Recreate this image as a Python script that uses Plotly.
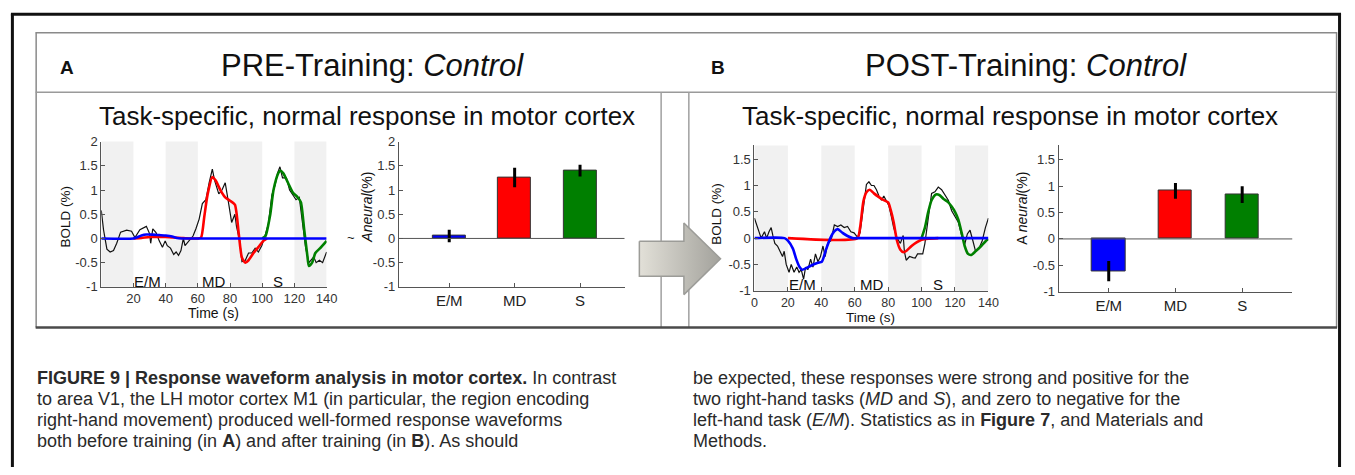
import plotly.graph_objects as go

W, H = 1355, 475
FONT = "Arial, Liberation Sans, sans-serif"
CAP_FONT = "Arial, Liberation Sans, sans-serif"

# ---------------- data ----------------
task_labels = ["E/M", "MD", "S"]
task_label_x = [29, 70, 110]
rest_starts = [0, 40, 80, 120]
rest_len = 20

# PRE-training time series (Time s, BOLD %)
pre_raw_t = [0, 1.4, 3.5, 5.5, 7.6, 9.6, 12, 15.8, 18.8, 20.9, 24, 28, 30, 30.7, 32, 34, 36, 38, 39.7, 41,
             43, 45, 46.5, 48, 49.5, 51, 52, 54.7, 57, 58.8, 60.8, 62.8, 65, 67, 69, 70.4, 73, 75, 77, 79,
             81, 83, 84, 86, 87.4, 89.5, 91.5, 93.5, 95.6, 97.6, 99.7, 101.7, 103.8, 106, 108, 109.5, 111,
             112.6, 115, 117, 119, 121, 123, 125, 127, 129, 130.4, 132, 133.5, 135.5, 137.5, 140]
pre_raw_v = [0.58, 0.18, -0.22, -0.28, -0.25, -0.1, 0.13, 0.17, 0.15, 0.02, 0.18, 0.25, 0.1, -0.1, 0.2, 0.12,
             -0.05, -0.18, -0.05, -0.15, -0.2, -0.33, -0.28, -0.35, -0.25, 0.0, -0.15, -0.05, 0.05, 0.2, 0.4,
             0.72, 0.8, 1.15, 1.43, 1.2, 0.92, 1.0, 1.15, 0.75, 0.33, 0.5, 0.25, -0.05, -0.48, -0.45, -0.3,
             -0.3, -0.2, -0.28, -0.15, 0.05, 0.3, 0.9, 1.1, 1.35, 1.48, 1.25, 1.25, 1.0, 0.9, 0.8, 0.85, 0.35,
             -0.2, -0.5, -0.45, -0.38, -0.5, -0.45, -0.5, -0.28]
pre_em_t = [0, 20, 22, 25, 28, 32, 36, 40, 44, 47, 50, 60, 140]
pre_em_v = [0, 0, 0.02, 0.06, 0.08, 0.08, 0.07, 0.06, 0.04, 0.01, 0, 0, 0]
pre_md_t = [20, 25, 30, 35, 40, 45, 50, 55, 60, 62, 64, 66, 69, 71, 74, 77, 80, 83, 85.4, 87.4, 89.5, 91.5,
            94.6, 97.6, 100.7, 103]
pre_md_v = [0, 0.01, 0.03, 0.03, 0.03, 0.02, 0.01, 0, 0, 0.02, 0.45, 0.9, 1.27, 1.2, 1.0, 0.85, 0.78, 0.7,
            0.1, -0.4, -0.5, -0.45, -0.3, -0.18, -0.05, 0]
pre_s_t = [100, 102, 105, 107, 110, 111, 113, 116, 119, 122, 124, 126, 128, 129, 131, 133, 136, 140]
pre_s_v = [0, 0.05, 0.5, 1.0, 1.35, 1.4, 1.35, 1.15, 0.95, 0.85, 0.75, 0.2, -0.35, -0.57, -0.5, -0.3, -0.2, -0.05]

# POST-training time series
post_raw_t = [0, 2, 4, 6, 7.3, 8.7, 10, 11, 12.2, 13.8, 15.2, 16.8, 17.8, 19, 20.7, 22, 23.7, 25.3, 26.7, 28,
              29.4, 30.6, 32, 33.6, 35, 36.5, 38, 39.5, 41, 42.3, 43.8, 45.8, 47.8, 49.8, 51.7, 53.7, 55.7,
              57.7, 59.6, 61.6, 63.2, 65.2, 67, 68.5, 70, 71.5, 73, 74.5, 76, 77.4, 79, 80.4, 82, 83.3, 85.3,
              87.3, 89, 89.7, 90.8, 92.8, 94.8, 96.2, 97.6, 99.5, 100.7, 102, 104, 106, 108, 110, 112, 114,
              116, 118, 120, 122, 124, 125.8, 127.4, 129, 130.7, 132.3, 134.3, 136.3, 138.2, 140]
post_raw_v = [0.38, 0.2, 0.0, 0.12, 0.0, 0.12, 0.2, 0.05, -0.1, -0.15, -0.25, -0.35, -0.25, -0.5, -0.65, -0.5,
              -0.65, -0.55, -0.65, -0.6, -0.78, -0.55, -0.6, -0.4, -0.55, -0.3, -0.45, -0.35, -0.15, -0.35,
              -0.1, -0.05, 0.25, 0.22, 0.25, 0.2, 0.22, 0.12, 0.1, 0.02, 0.1, 0.6, 1.02, 1.07, 1.0, 1.0, 0.92,
              0.8, 0.72, 0.8, 0.7, 0.62, 0.4, 0.2, 0.0, -0.1, 0.05, -0.25, -0.42, -0.35, -0.37, -0.38, -0.3,
              -0.3, -0.3, -0.1, 0.4, 0.85, 0.88, 0.97, 0.92, 0.82, 0.72, 0.52, 0.4, 0.3, 0.05, -0.12, 0.08,
              0.15, -0.05, -0.25, -0.2, -0.05, 0.2, 0.38]
post_em_t = [0, 18, 20, 23, 25, 27, 28.5, 31, 34, 38, 40.3, 43, 45.4, 47.8, 49.8, 52.7, 55.7, 58.7, 62, 140]
post_em_v = [0, 0, -0.05, -0.2, -0.4, -0.55, -0.6, -0.57, -0.52, -0.47, -0.45, -0.2, 0.0, 0.13, 0.17, 0.1,
             0.04, 0.0, 0, 0]
post_md_t = [20, 61.6, 63.2, 65.2, 67, 69, 71.5, 74.5, 77.4, 80, 81.4, 83.3, 85.3, 87.3, 89.3, 91, 94, 97,
             100, 104, 110]
post_md_v = [0, 0, 0.2, 0.7, 0.87, 0.92, 0.85, 0.78, 0.72, 0.68, 0.55, 0.3, -0.05, -0.22, -0.27, -0.24,
             -0.15, -0.08, -0.03, -0.01, 0]
post_s_t = [100, 102, 104, 106, 108.6, 110.6, 113, 116, 118, 120, 122, 124, 125.8, 127.8, 129.8, 132.3,
            135.7, 138.6, 140]
post_s_v = [0, 0.2, 0.5, 0.72, 0.83, 0.82, 0.75, 0.68, 0.6, 0.5, 0.35, 0.1, -0.15, -0.3, -0.32, -0.25,
            -0.15, -0.05, -0.02]

# Amplitude bars
bar_pos = [1, 2, 3]
pre_amp = [0.05, 1.26, 1.40]
pre_err = [0.13, 0.20, 0.12]
post_amp = [-0.61, 0.91, 0.84]
post_err = [0.19, 0.15, 0.16]
bar_colors = ["#0000ff", "#ff0000", "#007f00"]

pre_ticks = [-1, -0.5, 0, 0.5, 1, 1.5, 2]
post_ticks = [-1, -0.5, 0, 0.5, 1, 1.5]
pre_time_ticks = [20, 40, 60, 80, 100, 120, 140]
post_time_ticks = [0, 20, 40, 60, 80, 100, 120, 140]

# arrow outline (decoration, in page pixels)
arrow_x = [643, 688, 688, 725, 688, 688, 643, 643]
arrow_y = [242, 242, 223, 260, 297, 278, 278, 242]


def fmt(v):
    return ("%g" % v)


def px(x):
    return x / W


def py(y):
    return 1 - y / H


fig = go.Figure()

fit_colors = {"em": "#0000ff", "md": "#ff0000", "s": "#008000"}

for (xa, ya, raw_t, raw_v, em_t, em_v, md_t, md_v, s_t, s_v) in [
    ("x", "y", pre_raw_t, pre_raw_v, pre_em_t, pre_em_v, pre_md_t, pre_md_v, pre_s_t, pre_s_v),
    ("x3", "y3", post_raw_t, post_raw_v, post_em_t, post_em_v, post_md_t, post_md_v, post_s_t, post_s_v),
]:
    fig.add_trace(go.Scatter(x=raw_t, y=raw_v, mode="lines", xaxis=xa, yaxis=ya,
                             line=dict(color="#111111", width=1.2), showlegend=False, hoverinfo="skip"))
    fig.add_trace(go.Scatter(x=md_t, y=md_v, mode="lines", xaxis=xa, yaxis=ya,
                             line=dict(color=fit_colors["md"], width=2.6, shape="spline", smoothing=0.6),
                             showlegend=False))
    fig.add_trace(go.Scatter(x=s_t, y=s_v, mode="lines", xaxis=xa, yaxis=ya,
                             line=dict(color=fit_colors["s"], width=2.6, shape="spline", smoothing=0.6),
                             showlegend=False))
    fig.add_trace(go.Scatter(x=em_t, y=em_v, mode="lines", xaxis=xa, yaxis=ya,
                             line=dict(color=fit_colors["em"], width=2.6, shape="spline", smoothing=0.6),
                             showlegend=False))

for xa, ya, amp, err in [("x2", "y2", pre_amp, pre_err), ("x4", "y4", post_amp, post_err)]:
    fig.add_trace(go.Bar(x=bar_pos, y=amp, width=0.5, xaxis=xa, yaxis=ya,
                         marker=dict(color=bar_colors, line=dict(color="#333333", width=1)),
                         error_y=dict(type="data", array=err, color="#000000", thickness=3, width=0),
                         showlegend=False))

fig.add_trace(go.Scatter(x=arrow_x, y=arrow_y, mode="lines", fill="toself", xaxis="x5", yaxis="y5",
                         line=dict(color="#9c9c98", width=1.5),
                         fillgradient=dict(type="horizontal",
                                           colorscale=[[0, "#e2e0d8"], [1, "#a3a29c"]]),
                         showlegend=False, hoverinfo="skip"))

axis_base = dict(showline=True, linecolor="#555555", linewidth=1, ticks="inside", ticklen=4,
                 tickcolor="#555555", showgrid=False, zeroline=False,
                 tickfont=dict(size=13, color="#333333", family=FONT))

pre_ts = dict(x0=99.3, x1=327, y0=139, y1=289)
pre_bar = dict(x0=400, x1=628, y0=139, y1=289)
post_ts = dict(x0=759.3, x1=995.7, y0=143, y1=293)
post_bar = dict(x0=1066.7, x1=1302.7, y0=143, y1=294)


def xdom(g):
    return [px(g["x0"]), px(g["x1"])]


def ydom(g):
    return [py(g["y1"]), py(g["y0"])]


cat_font = dict(size=15, color="#222", family=FONT)

fig.update_layout(
    xaxis=dict(axis_base, domain=xdom(pre_ts), range=[0, 140], anchor="y",
               tickvals=pre_time_ticks, ticktext=[fmt(v) for v in pre_time_ticks]),
    yaxis=dict(axis_base, domain=ydom(pre_ts), range=[-1, 2], anchor="x",
               tickvals=pre_ticks, ticktext=[fmt(v) for v in pre_ticks]),
    xaxis2=dict(axis_base, domain=xdom(pre_bar), range=[0.23, 3.68], anchor="y2",
                tickvals=bar_pos, ticktext=task_labels, tickfont=cat_font),
    yaxis2=dict(axis_base, domain=ydom(pre_bar), range=[-1, 2], anchor="x2",
                tickvals=pre_ticks, ticktext=[fmt(v) for v in pre_ticks]),
    xaxis3=dict(axis_base, domain=xdom(post_ts), range=[0, 140], anchor="y3",
                tickvals=post_time_ticks, ticktext=[fmt(v) for v in post_time_ticks],
                tickfont=dict(size=12.5, color="#333333", family=FONT)),
    yaxis3=dict(axis_base, domain=ydom(post_ts), range=[-1, 1.76], anchor="x3",
                tickvals=post_ticks, ticktext=[fmt(v) for v in post_ticks]),
    xaxis4=dict(axis_base, domain=xdom(post_bar), range=[0.25, 3.75], anchor="y4",
                tickvals=bar_pos, ticktext=task_labels, tickfont=cat_font),
    yaxis4=dict(axis_base, domain=ydom(post_bar), range=[-1, 1.77], anchor="x4",
                tickvals=post_ticks, ticktext=[fmt(v) for v in post_ticks]),
    xaxis5=dict(domain=[0, 1], range=[0, W], visible=False, anchor="y5", fixedrange=True),
    yaxis5=dict(domain=[0, 1], range=[H, 0], visible=False, anchor="x5", fixedrange=True),
    width=W, height=H, margin=dict(l=0, r=0, t=0, b=0),
    paper_bgcolor="white", plot_bgcolor="rgba(0,0,0,0)",
    bargap=0, showlegend=False,
    font=dict(family=FONT, color="#222"),
)

shapes = []
for xr, yr in [("x", "y"), ("x3", "y3")]:
    for s in rest_starts:
        shapes.append(dict(type="rect", xref=xr, yref=yr + " domain", x0=s, x1=s + rest_len, y0=0, y1=1,
                           fillcolor="#f1f1f1", line=dict(width=0), layer="below"))
for xr, yr in [("x2", "y2"), ("x4", "y4")]:
    shapes.append(dict(type="line", xref=xr + " domain", yref=yr, x0=0, x1=1, y0=0, y1=0,
                       line=dict(color="#555555", width=1)))


def pline(x0, y0, x1, y1, color, width, layer="below"):
    shapes.append(dict(type="line", xref="paper", yref="paper", x0=px(x0), x1=px(x1), y0=py(y0), y1=py(y1),
                       line=dict(color=color, width=width), layer=layer))


pline(8, 7.5, 1352, 7.5, "#111111", 3)
pline(9.5, 7, 9.5, 475, "#111111", 3)
pline(1350.5, 7, 1350.5, 475, "#111111", 3)
pline(33, 26.5, 1348, 26.5, "#8a8a8a", 1.5)
pline(33.5, 26, 33.5, 331, "#8a8a8a", 1.5)
pline(1347.5, 26, 1347.5, 331, "#8a8a8a", 1.5)
pline(33, 88, 1348, 88, "#9a9a9a", 1.5)
pline(665, 88, 665, 331, "#a0a0a0", 1.5)
pline(693, 88, 693, 331, "#a0a0a0", 1.5)
pline(33, 331, 1348, 331, "#4a4a4a", 2.5, layer="above")

annotations = []


def ann(x, y, text, size, anchor="center", color="#111", angle=0, family=FONT, yanchor="middle"):
    annotations.append(dict(x=px(x), y=py(y), xref="paper", yref="paper", text=text, showarrow=False,
                            xanchor=anchor, yanchor=yanchor, textangle=angle,
                            font=dict(size=size, color=color, family=family)))


ann(65, 62, "<b>A</b>", 19)
ann(722, 62, "<b>B</b>", 19)
ann(373, 60, "PRE-Training: <i>Control</i>", 31)
ann(1034, 60, "POST-Training: <i>Control</i>", 31)
ann(368, 113, "Task-specific, normal response in motor cortex", 26)
ann(1018, 113, "Task-specific, normal response in motor cortex", 26)

ann(63, 216, "BOLD (%)", 13.5, angle=-90)
ann(721, 214, "BOLD (%)", 13.5, angle=-90)
ann(213, 316, "Time (s)", 14)
ann(877, 321, "Time (s)", 13.5)
ann(368, 207, "<i>Aneural</i>(%)", 14, angle=-90)
ann(352, 238, "~", 13)
ann(1030, 208, "A <i>neural</i>(%)", 14, angle=-90)

for xr, yr in [("x", "y"), ("x3", "y3")]:
    for lab, lx in zip(task_labels, task_label_x):
        annotations.append(dict(x=lx, y=-0.88, xref=xr, yref=yr, text=lab, showarrow=False,
                                xanchor="center", yanchor="middle", font=dict(size=15, color="#111", family=FONT)))

cap_left = [
    "<b>FIGURE 9 | Response waveform analysis in motor cortex.</b> In contrast",
    "to area V1, the LH motor cortex M1 (in particular, the region encoding",
    "right-hand movement) produced well-formed response waveforms",
    "both before training (in <b>A</b>) and after training (in <b>B</b>). As should",
]
cap_right = [
    "be expected, these responses were strong and positive for the",
    "two right-hand tasks (<i>MD</i> and <i>S</i>), and zero to negative for the",
    "left-hand task (<i>E/M</i>). Statistics as in <b>Figure 7</b>, and Materials and",
    "Methods.",
]
for i, line in enumerate(cap_left):
    ann(32, 383 + i * 21.8, line, 18, anchor="left", color="#2a2a2a", family=CAP_FONT)
for i, line in enumerate(cap_right):
    ann(695, 383 + i * 21.8, line, 18, anchor="left", color="#2a2a2a", family=CAP_FONT)

fig.update_layout(shapes=shapes, annotations=annotations)
fig.write_html("out.html", config={"displayModeBar": False},
               post_script="document.body.style.margin='0';document.body.style.overflow='hidden';")
